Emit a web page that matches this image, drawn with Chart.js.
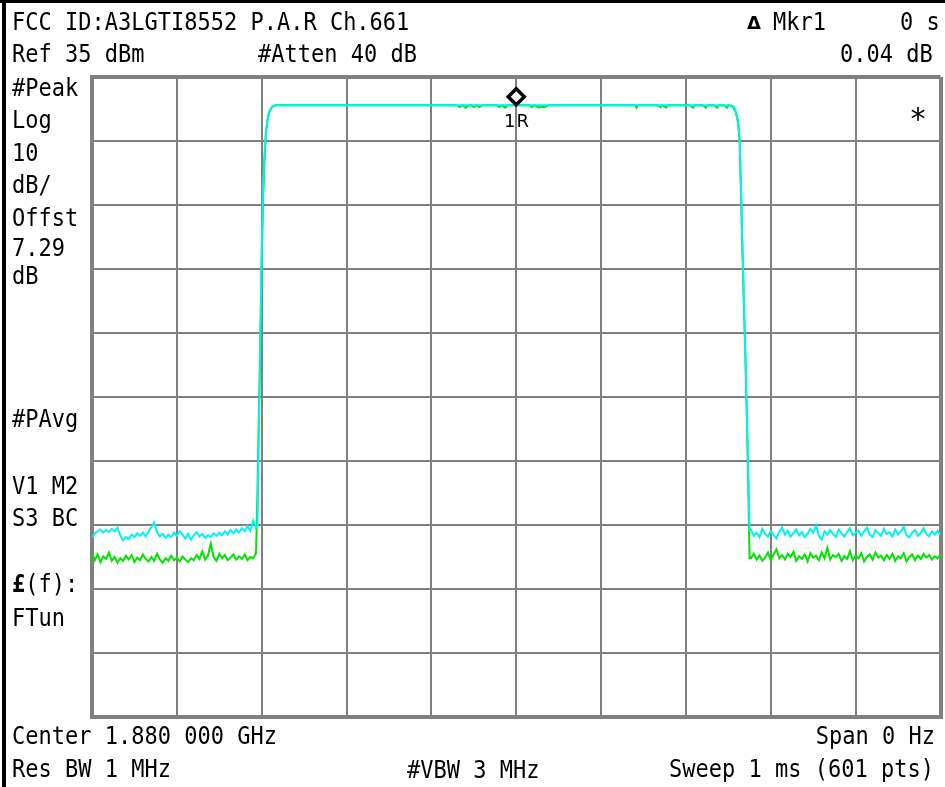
<!DOCTYPE html>
<html><head><meta charset="utf-8">
<script src="https://cdn.jsdelivr.net/npm/chart.js@4/dist/chart.umd.min.js"></script>
<style>
html,body{margin:0;padding:0;background:#fff;}
#wrap{position:relative;width:945px;height:787px;overflow:hidden;background:#fff;}
#c{position:absolute;left:0;top:0;}
.t{position:absolute;font-family:"DejaVu Sans Mono",monospace;font-size:22px;line-height:22px;white-space:pre;color:#000;transform:scaleY(1.1);transform-origin:0 19px;}
#lb{position:absolute;left:2px;top:0;width:4px;height:787px;background:#000;}
#tb{position:absolute;left:0;top:0;width:945px;height:3px;background:#000;}
</style></head><body>
<div id="wrap"><canvas id="c" width="952" height="787"></canvas><div id="lb"></div><div id="tb"></div></div>
<script>
// ---- Data (sample index 0..600 of 601 pts, level in dBm) ----
const noiseStep = 2;
const leftNoiseStart = 0;
const rightNoiseStart = 466;

const cyanLeftNoise = [
-37.0,-36.3,-36.0,-35.7,-36.2,-35.8,-36.1,-35.6,-36.0,-35.4,
-36.6,-37.4,-36.9,-37.2,-36.5,-36.9,-36.3,-36.7,-36.2,-36.8,
-36.0,-35.3,-34.6,-36.1,-36.8,-36.4,-37.0,-36.5,-36.9,-36.2,
-36.7,-36.0,-36.5,-37.1,-36.4,-37.3,-36.6,-36.1,-36.8,-36.4,
-37.0,-36.6,-36.9,-36.3,-36.7,-36.2,-36.6,-36.0,-36.5,-35.8,
-36.3,-35.7,-36.2,-35.5,-36.0,-35.2,-35.9,-34.3,-35.4];
const cyanRise = [[117,-35.0],[118,-20],[119,-5],[120,8],[121,18],[122,23],[123,26.3],[124,28],[125,29.2],[126,29.8],[127,30.2],[128,30.4]];
const cyanTop = [[130,30.6],[200,30.6],[300,30.6],[400,30.6],[452,30.55]];
const cyanFall = [[454,30.3],[455,29.8],[456,29.0],[457,27.8],[458,25],[459,17],[460,8],[461,0],[462,-8],[463,-17],[464,-26],[465,-35.8]];
const cyanRightNoise = [
-35.8,-36.7,-36.2,-36.9,-35.6,-36.4,-36.8,-35.9,-36.6,-37.1,
-36.0,-35.4,-36.5,-35.9,-36.8,-36.3,-35.7,-36.6,-36.1,-36.9,
-36.4,-35.6,-36.2,-35.1,-36.7,-37.3,-36.0,-36.5,-35.8,-36.4,
-36.9,-35.7,-36.3,-36.8,-36.1,-35.5,-36.6,-36.2,-35.9,-36.7,
-36.0,-35.4,-36.5,-36.9,-35.8,-36.3,-36.7,-35.6,-36.4,-36.1,
-36.8,-35.7,-36.5,-36.0,-35.3,-36.6,-36.9,-36.2,-35.8,-36.7,
-36.3,-35.5,-36.4,-36.8,-36.0,-36.5,-35.9,-36.6];

const greenLeftNoise = [
-39.4,-40.5,-39.6,-40.8,-39.9,-40.3,-39.3,-40.6,-40.0,-40.9,
-40.2,-40.6,-39.8,-40.4,-39.7,-40.8,-40.1,-40.5,-39.6,-40.3,
-40.7,-40.0,-40.6,-39.5,-40.4,-40.9,-40.2,-40.6,-39.8,-40.5,
-40.1,-40.7,-39.9,-40.4,-40.8,-40.2,-40.5,-39.7,-40.3,-39.1,
-40.4,-39.8,-37.9,-40.0,-40.6,-39.5,-40.2,-39.7,-40.5,-40.1,
-39.6,-40.4,-39.9,-40.3,-39.6,-40.5,-40.0,-40.2,-39.4];
const greenRise = [[117,-30],[118,-18],[119,-8],[120,6],[121,16],[122,22],[123,26.3],[124,28.2],[125,29.3],[126,29.9],[127,30.2],[128,30.4]];
const greenTop = [[130,30.6],[200,30.6],[258,30.6],[260,30.3],[262,30.6],[264,30.2],[266,30.5],[268,30.6],[270,30.3],[272,30.6],[274,30.3],[276,30.6],
[286,30.6],[288,30.3],[290,30.6],[292,30.2],[294,30.6],[309,30.6],[311,30.3],[313,30.6],[316,30.2],[318,30.4],[320,30.3],[323,30.6],
[384,30.6],[385,30.2],[386,30.6],[400,30.6],[402,30.3],[403,30.6],[406,30.2],[407,30.6],[423,30.6],[425,30.2],[426,30.6],
[432,30.6],[434,30.2],[435,30.6],[440,30.6],[442,30.2],[443,30.6],[447,30.6],[449,30.2],[450,30.6]];
const greenFall = [[453,30.4],[455,29.6],[456,28.8],[457,27.6],[458,24.6],[459,16.5],[460,7.5],[461,-0.5],[462,-8.5],[463,-17.5],[464,-28],[465,-40.2]];
const greenRightNoise = [
-40.2,-39.5,-40.4,-39.8,-40.6,-40.1,-39.3,-40.5,-39.6,-38.8,
-40.2,-39.7,-40.4,-39.5,-40.0,-39.2,-40.6,-39.9,-40.3,-39.6,
-40.7,-39.4,-40.1,-39.8,-40.5,-39.3,-40.2,-38.6,-40.4,-39.7,
-40.0,-39.5,-40.6,-39.9,-40.3,-39.1,-40.5,-39.8,-40.2,-39.4,
-40.7,-40.0,-39.6,-40.4,-39.3,-40.1,-39.8,-40.5,-39.7,-40.3,
-39.5,-40.6,-39.9,-40.2,-39.4,-40.7,-40.0,-39.6,-40.5,-39.8,
-40.3,-39.5,-40.1,-39.7,-40.4,-39.9,-40.2,-39.6];

const marker1 = [[300, 31.9]];

const xTicks = [0,60,120,180,240,300,360,420,480,540,600];
const yTicks = [-65,-55,-45,-35,-25,-15,-5,5,15,25,35];

// ---- Build points ----
function buildTrace(leftNoise, rise, top, fall, rightNoise){
  const pts = [];
  leftNoise.forEach((v,k)=>pts.push({x:leftNoiseStart+k*noiseStep,y:v}));
  rise.concat(top, fall).forEach(p=>pts.push({x:p[0],y:p[1]}));
  rightNoise.forEach((v,k)=>pts.push({x:rightNoiseStart+k*noiseStep,y:v}));
  return pts;
}
const cyanPts = buildTrace(cyanLeftNoise, cyanRise, cyanTop, cyanFall, cyanRightNoise);
const greenPts = buildTrace(greenLeftNoise, greenRise, greenTop, greenFall, greenRightNoise);

const GRID = '#808080';
const edgeW = ctx => (ctx.index===0 || ctx.index===10) ? 4 : 2;

new Chart(document.getElementById('c'), {
  type: 'line',
  data: { datasets: [
    { data: marker1.map(p=>({x:p[0],y:p[1]})), showLine:false, pointStyle:'rectRot', pointRadius:8, pointBorderWidth:3.5, pointBorderColor:'#000', pointBackgroundColor:'#fff', clip:false },
    { data: cyanPts, borderColor:'#00f2f2', borderWidth:2, pointRadius:0, tension:0 },
    { data: greenPts, borderColor:'#00e400', borderWidth:2, pointRadius:0, tension:0 }
  ]},
  options: {
    responsive:false, animation:false, devicePixelRatio:1,
    layout:{ padding:{ left:92, top:77, right:3, bottom:70 } },
    plugins:{ legend:{display:false}, tooltip:{enabled:false} },
    scales:{
      x:{ type:'linear', min:0, max:600,
          afterBuildTicks: s => { s.ticks = xTicks.map(v=>({value:v})); },
          ticks:{display:false}, grid:{color:GRID, lineWidth:edgeW, drawTicks:false},
          border:{display:true, color:GRID, width:4} },
      y:{ type:'linear', min:-65, max:35,
          afterBuildTicks: s => { s.ticks = yTicks.map(v=>({value:v})); },
          ticks:{display:false}, grid:{color:GRID, lineWidth:edgeW, drawTicks:false},
          border:{display:true, color:GRID, width:4} }
    }
  }
});

// ---- Annotation text ----
const BASE = 19;
const textItems = [
  {t:"FCC ID:A3LGTI8552 P.A.R Ch.661", x:12, b:31},
  {t:"Mkr1", x:773, b:31},
  {t:"0 s", x:900, b:31},
  {t:"Ref 35 dBm", x:12, b:63},
  {t:"#Atten 40 dB", x:258, b:63},
  {t:"0.04 dB", x:840, b:63},
  {t:"#Peak", x:12, b:97},
  {t:"Log", x:12, b:129},
  {t:"10", x:12, b:162},
  {t:"dB/", x:12, b:194},
  {t:"Offst", x:12, b:227},
  {t:"7.29", x:12, b:257},
  {t:"dB", x:12, b:285},
  {t:"#PAvg", x:12, b:428},
  {t:"V1 M2", x:12, b:495},
  {t:"S3 BC", x:12, b:527},
  {h:"<b>£</b>(f):", x:12, b:593},
  {t:"FTun", x:12, b:627},
  {t:"Center 1.880 000 GHz", x:12, b:745},
  {t:"Span 0 Hz", r:935, b:745},
  {t:"Res BW 1 MHz", x:12, b:778},
  {t:"#VBW 3 MHz", x:407, b:779},
  {t:"Sweep 1 ms (601 pts)", r:934, b:778}
];
const wrap = document.getElementById('wrap');
textItems.forEach(it=>{
  const d = document.createElement('div');
  d.className = 't';
  if (it.h) d.innerHTML = it.h; else d.textContent = it.t;
  if (it.r !== undefined) d.style.right = (945-it.r)+'px'; else d.style.left = it.x+'px';
  d.style.top = (it.b-BASE)+'px';
  wrap.appendChild(d);
});
function extra(txt, css){ const d=document.createElement('div'); d.textContent=txt; d.style.cssText='position:absolute;white-space:pre;color:#000;'+css; wrap.appendChild(d); }
extra("Δ", "left:747px;top:12px;font-family:'DejaVu Sans';font-weight:bold;font-size:18px;line-height:22px;");
extra("1R", "left:504px;top:111px;font-family:'DejaVu Sans';font-size:18px;line-height:20px;letter-spacing:1px;");
extra("*", "left:909px;top:104px;font-family:'DejaVu Sans Mono';font-size:30px;line-height:30px;");
</script>
</body></html>
